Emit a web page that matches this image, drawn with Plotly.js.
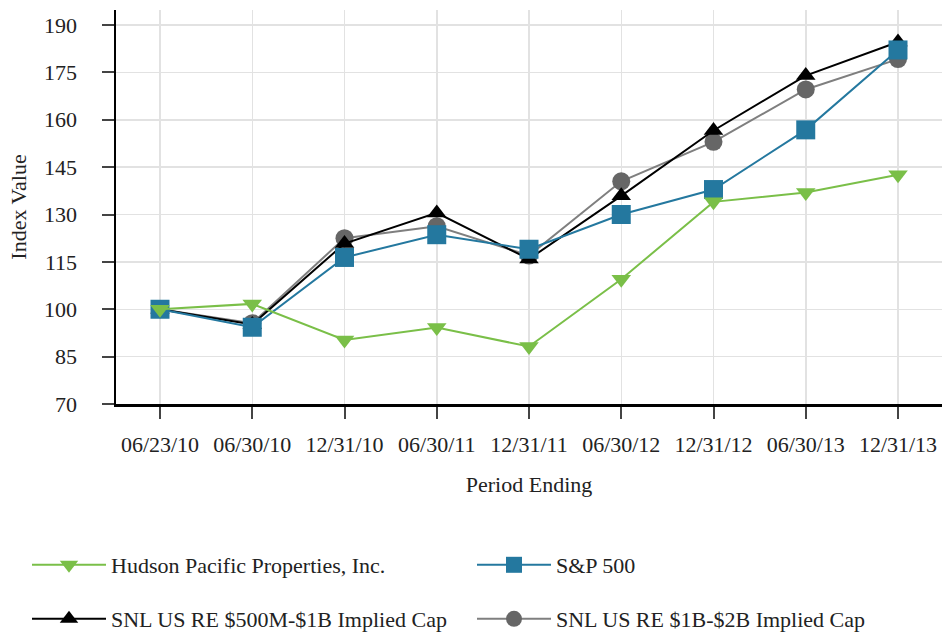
<!DOCTYPE html>
<html>
<head>
<meta charset="utf-8">
<script src="https://cdn.plot.ly/plotly-3.0.1.min.js"></script>
<style>html,body{margin:0;padding:0;background:#fff;}#chart{width:943px;height:634px;}</style>
</head>
<body>
<div id="chart"></div>
<script>
const periods = ["06/23/10","06/30/10","12/31/10","06/30/11","12/31/11","06/30/12","12/31/12","06/30/13","12/31/13"];
const hudson = [100, 101.7, 90.3, 94.2, 88.2, 109.5, 134, 137, 142.6];
const sp500 = [100, 94.3, 116.4, 123.6, 119, 130, 137.9, 156.8, 182.1];
const snl500m = [100, 95.2, 120.8, 130.5, 115.9, 135.9, 156.6, 174, 184.6];
const snl1b = [100, 95.6, 122.5, 126.3, 117, 140.5, 153, 169.6, 179.2];
const yTicks = [70, 85, 100, 115, 130, 145, 160, 175, 190];

const FONT = "Liberation Serif, Times New Roman, serif";

const traces = [
  {x: periods, y: snl1b, name: "SNL US RE $1B-$2B Implied Cap", mode: "lines+markers", legend: "legend4",
   line: {color: "#7f7f7f", width: 2}, marker: {symbol: "circle", size: 18, color: "#666666"}},
  {x: periods, y: snl500m, name: "SNL US RE $500M-$1B Implied Cap", mode: "lines+markers", legend: "legend3",
   line: {color: "#000000", width: 2}, marker: {symbol: "triangle-up", size: 17, color: "#000000"}},
  {x: periods, y: sp500, name: "S&P 500", mode: "lines+markers", legend: "legend2",
   line: {color: "#24789f", width: 2}, marker: {symbol: "square", size: 19, color: "#24789f"}},
  {x: periods, y: hudson, name: "Hudson Pacific Properties, Inc.", mode: "lines+markers", legend: "legend",
   line: {color: "#7abf48", width: 2}, marker: {symbol: "triangle-down", size: 17, color: "#7abf48"}}
];

function leg(xpx, ypx) {
  return {
    orientation: "h", xref: "container", yref: "container", xanchor: "left", yanchor: "middle",
    x: xpx / 943, y: 1 - ypx / 634, itemwidth: 74,
    font: {family: FONT, size: 22, color: "#222"}, bgcolor: "rgba(0,0,0,0)"
  };
}

const layout = {
  width: 943, height: 634,
  margin: {l: 116, r: 1, t: 10, b: 230},
  paper_bgcolor: "#fff", plot_bgcolor: "#fff",
  font: {family: FONT, size: 22, color: "#222"},
  showlegend: true,
  legend: leg(27, 565),
  legend2: leg(472, 565),
  legend3: leg(27, 619),
  legend4: leg(472, 619),
  xaxis: {
    type: "category", range: [-0.477, 8.477],
    showgrid: true, gridcolor: "#e2e2e2", gridwidth: 1.5,
    showline: true, linecolor: "#000", linewidth: 2.5,
    ticks: "outside", ticklen: 12, tickwidth: 2, tickcolor: "#444",
    ticklabelstandoff: 7,
    tickfont: {family: FONT, size: 22, color: "#222"},
    title: {text: "Period Ending", font: {family: FONT, size: 22, color: "#222"}, standoff: 21},
    zeroline: false, fixedrange: true
  },
  yaxis: {
    range: [70, 194.75], tickvals: yTicks, ticktext: yTicks.map(String),
    showgrid: true, gridcolor: "#e2e2e2", gridwidth: 1.5,
    showline: true, linecolor: "#000", linewidth: 2.5,
    ticks: "outside", ticklen: 12, tickwidth: 2, tickcolor: "#444",
    ticklabelstandoff: 20,
    tickfont: {family: FONT, size: 22, color: "#222"},
    title: {text: "Index Value", font: {family: FONT, size: 22, color: "#222"}, standoff: 12},
    zeroline: false, fixedrange: true
  }
};

Plotly.newPlot("chart", traces, layout, {displayModeBar: false, staticPlot: true});
</script>
</body>
</html>
